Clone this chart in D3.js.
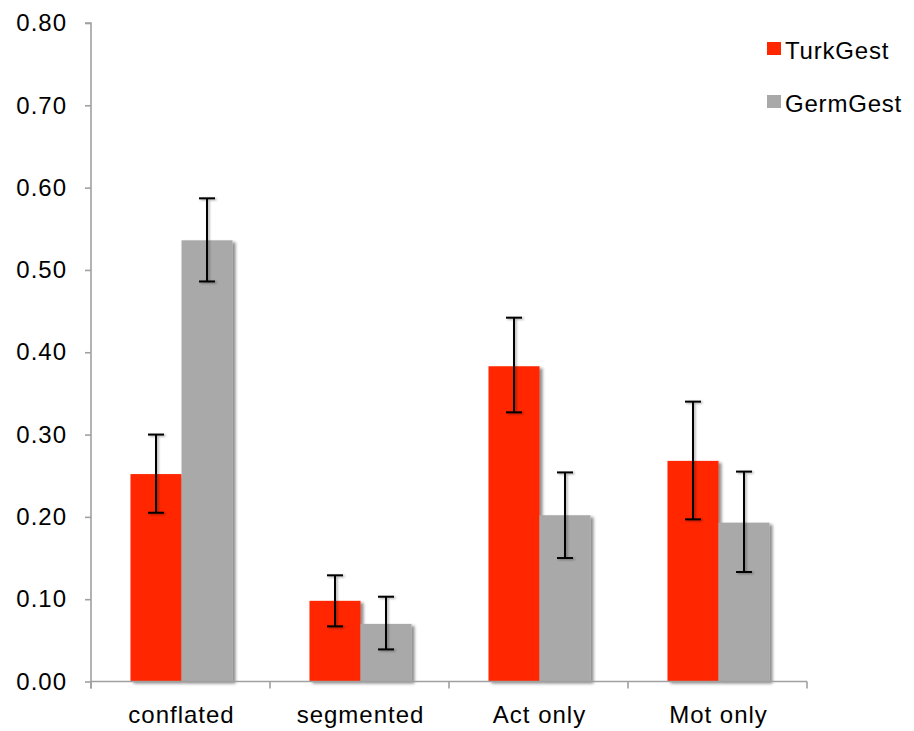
<!DOCTYPE html>
<html>
<head>
<meta charset="utf-8">
<script src="https://cdn.jsdelivr.net/npm/d3@7"></script>
<style>
  html, body { margin: 0; padding: 0; background: #fff; }
  svg text { font-family: "Liberation Sans", Arial, Helvetica, sans-serif; fill: #000; }
</style>
</head>
<body>
<svg id="chart" width="914" height="731"></svg>
<script>
// Proportion of gesture types per group, with error bars (± SE)
const categories = ["conflated", "segmented", "Act only", "Mot only"];
const seriesNames = ["TurkGest", "GermGest"];
const seriesColors = ["#FF2600", "#A9A9A9"];
const turkValues = [0.252, 0.098, 0.383, 0.268];
const germValues = [0.536, 0.070, 0.202, 0.193];
const turkErrLow  = [0.205, 0.067, 0.327, 0.197];
const turkErrHigh = [0.300, 0.129, 0.442, 0.340];
const germErrLow  = [0.486, 0.039, 0.150, 0.133];
const germErrHigh = [0.587, 0.103, 0.254, 0.255];
const yTicks = [0, 0.1, 0.2, 0.3, 0.4, 0.5, 0.6, 0.7, 0.8];

const series = [
  { name: seriesNames[0], color: seriesColors[0], values: turkValues, lo: turkErrLow, hi: turkErrHigh },
  { name: seriesNames[1], color: seriesColors[1], values: germValues, lo: germErrLow, hi: germErrHigh }
];

const svg = d3.select("#chart");
const plotLeft = 91, plotRight = 807, plotTop = 23, plotBottom = 681.5;
const fontSize = 24;

const defs = svg.append("defs");
const shadow = defs.append("filter").attr("id", "barShadow")
  .attr("x", "-20%").attr("y", "-5%").attr("width", "150%").attr("height", "115%");
shadow.append("feDropShadow").attr("dx", 3).attr("dy", 2).attr("stdDeviation", 1.6)
  .attr("flood-color", "#000").attr("flood-opacity", 0.45);
const lineShadow = defs.append("filter").attr("id", "lineShadow")
  .attr("x", "-100%").attr("y", "-10%").attr("width", "300%").attr("height", "130%");
lineShadow.append("feDropShadow").attr("dx", 1.5).attr("dy", 1).attr("stdDeviation", 0.8)
  .attr("flood-color", "#000").attr("flood-opacity", 0.35);

const y = d3.scaleLinear().domain([0, 0.8]).range([plotBottom, plotTop]);
const x0 = d3.scaleBand().domain(categories).range([plotLeft, plotRight]).paddingInner(0.43).paddingOuter(0.215);
const x1 = d3.scaleBand().domain(seriesNames).range([0, x0.bandwidth()]);

// Bars
const groups = svg.append("g").selectAll("g")
  .data(categories)
  .join("g")
  .attr("transform", d => `translate(${x0(d) + 1},0)`);

series.forEach(s => {
  groups.append("rect")
    .attr("x", x1(s.name))
    .attr("width", x1.bandwidth())
    .attr("y", (d, i) => y(s.values[i]))
    .attr("height", (d, i) => y(0) - y(s.values[i]))
    .attr("fill", s.color)
    .attr("filter", "url(#barShadow)");
});

// Y axis
const yAxis = svg.append("g")
  .attr("transform", `translate(${plotLeft},0)`)
  .call(d3.axisLeft(y).tickValues(yTicks).tickFormat(d3.format(".2f")).tickSize(6).tickPadding(18));
yAxis.selectAll("line, path").attr("stroke", "#A0A0A0").attr("stroke-width", 1.6);
yAxis.select(".domain").attr("d", `M-6,${plotTop}H0V${plotBottom + 7}`);
yAxis.selectAll("text")
  .attr("font-size", fontSize)
  .attr("letter-spacing", "1px")
  .attr("font-family", "'Liberation Sans', Arial, sans-serif");

// X axis with ticks between categories
const xAxisG = svg.append("g").attr("transform", `translate(0,${plotBottom})`);
xAxisG.append("line").attr("x1", plotLeft).attr("x2", plotRight).attr("y1", 0).attr("y2", 0)
  .attr("stroke", "#A0A0A0").attr("stroke-width", 1.6);
const boundaries = categories.map(c => x0(c) - x0.step() * x0.paddingInner() / 2).concat([plotRight]);
xAxisG.selectAll("line.tick").data(boundaries).join("line").attr("class", "tick")
  .attr("x1", d => d).attr("x2", d => d).attr("y1", 0).attr("y2", 7)
  .attr("stroke", "#A0A0A0").attr("stroke-width", 1.6);
xAxisG.selectAll("text").data(categories).join("text")
  .attr("x", d => x0(d) + x0.bandwidth() / 2 + 1)
  .attr("y", 41.5)
  .attr("text-anchor", "middle")
  .attr("font-size", fontSize)
  .attr("letter-spacing", "1px")
  .text(d => d);

// Error bars
series.forEach(s => {
  const eg = groups.append("g").attr("filter", "url(#lineShadow)");
  const cx = x1(s.name) + x1.bandwidth() / 2;
  eg.append("line")
    .attr("x1", cx).attr("x2", cx)
    .attr("y1", (d, i) => y(s.lo[i])).attr("y2", (d, i) => y(s.hi[i]))
    .attr("stroke", "#000").attr("stroke-width", 2);
  [s.lo, s.hi].forEach(arr => {
    eg.append("line")
      .attr("x1", cx - 8).attr("x2", cx + 8)
      .attr("y1", (d, i) => y(arr[i])).attr("y2", (d, i) => y(arr[i]))
      .attr("stroke", "#000").attr("stroke-width", 2);
  });
});

// Legend
const legend = svg.append("g").selectAll("g").data(series).join("g")
  .attr("transform", (d, i) => `translate(767,${42 + i * 53})`);
legend.append("rect").attr("width", 14).attr("height", 13).attr("fill", d => d.color);
legend.append("text").attr("x", 18).attr("y", 17)
  .attr("font-size", fontSize).attr("letter-spacing", "0.8px")
  .text(d => d.name);
</script>
</body>
</html>
